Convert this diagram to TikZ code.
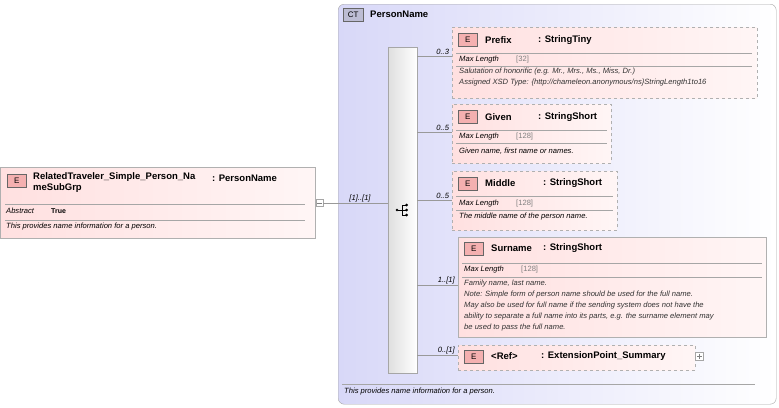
\documentclass[tikz,border=0pt]{standalone}
\usepackage{fontspec}
\setmainfont{Liberation Sans}
\usetikzlibrary{positioning}
\definecolor{elemfill}{HTML}{FFE0E0}
\definecolor{elemline}{HTML}{B0B0B0}
\definecolor{ctfill}{HTML}{D8D8F8}
\definecolor{badge}{HTML}{F4B0B0}
\tikzset{
  elem/.style={draw=elemline, left color=elemfill, right color=elemfill!30, anchor=north west, inner sep=0pt},
  opt/.style={elem, dashed},
  badge/.style={draw=gray!80!black, fill=badge, font=\fontsize{8}{8}\selectfont, minimum width=19pt, minimum height=13pt, inner sep=0pt, anchor=north west},
  title/.style={font=\fontsize{9.5}{11}\selectfont\bfseries, anchor=west, inner sep=0pt},
  prop/.style={font=\fontsize{7.6}{8}\selectfont\itshape, anchor=west, inner sep=0pt},
  val/.style={font=\fontsize{7.6}{8}\selectfont, text=gray, anchor=west, inner sep=0pt},
  desc/.style={font=\fontsize{7.6}{11}\selectfont\itshape, text=black!80, anchor=north west, inner sep=0pt, align=left},
  mult/.style={font=\fontsize{7.6}{8}\selectfont\itshape, anchor=south east, inner sep=1pt},
  sep/.style={draw=gray!70},
  conn/.style={draw=gray!80}
}
\begin{document}
\begin{tikzpicture}[x=1pt,y=-1pt]
\useasboundingbox (0,0) rectangle (779,407);

% complex type container
\node[draw=gray!70, rounded corners=6pt, left color=ctfill, right color=white, anchor=north west,
  minimum width=438pt, minimum height=400pt, inner sep=0pt] (ct) at (338,4) {};
\node[badge, fill=ctfill!70!gray, minimum width=20pt] (ctb) at (343,8) {CT};
\node[title] (ctname) at (370,14) {PersonName};
\draw[sep] (342,384) -- (755,384);
\node[prop] (ctdesc) at (344,392) {This provides name information for a person.};

% left element
\node[elem, minimum width=315pt, minimum height=71pt] (rt) at (0,167) {};
\node[badge] (rtb) at (7,174) {E};
\node[title, anchor=north west, align=left] (rtname) at (33,172) {RelatedTraveler\_Simple\_Person\_Na\\meSubGrp};
\node[title] (rttype) at (212,178) {: PersonName};
\draw[sep] (5,204) -- (305,204);
\node[prop] (rtabs) at (6,211) {Abstract};
\node[font=\fontsize{7}{8}\selectfont\bfseries, anchor=west, inner sep=0pt] (rtval) at (51,211) {True};
\draw[sep] (5,220) -- (305,220);
\node[prop] (rtdesc) at (6,227) {This provides name information for a person.};
\node[draw=gray!70, fill=white, minimum size=7pt, inner sep=0pt] (rtm) at (319.5,203) {};
\draw[gray] (317,203) -- (322,203);

% sequence
\node[draw=gray!70, left color=gray!25, right color=white, anchor=north west,
  minimum width=29pt, minimum height=326pt, inner sep=0pt] (seq) at (388,47) {};
\coordinate (seqin) at (388,203);
\draw[conn] (rtm.east) -- (seqin) node[mult, pos=0.75] {[1]..[1]};
\begin{scope}[shift={(403,210)}]
  \fill (-6,0) circle (1.3);
  \draw (-5,0) -- (-1,0) (-1,-5) -- (-1,5) (-1,-5) -- (3,-5) (-1,0) -- (3,0) (-1,5) -- (3,5);
  \fill (3.5,-5) circle (1.5) (3.5,0) circle (1.5) (3.5,5) circle (1.5);
\end{scope}

% Prefix
\node[opt, minimum width=305pt, minimum height=71pt] (prefix) at (452,27) {};
\node[badge] at (458,33) {E};
\node[title] at (485,40) {Prefix};
\node[title] at (538,40) {: StringTiny};
\draw[sep] (456,53) -- (752,53);
\node[prop] at (459,60) {Max Length};
\node[val] at (516,60) {[32]};
\draw[sep] (456,66) -- (752,66);
\node[desc] at (459,68) {Salutation of honorific (e.g. Mr., Mrs., Ms., Miss, Dr.)\\Assigned XSD Type: \{http://chameleon.anonymous/ns\}StringLength1to16};
\coordinate (prefixin) at (452,56);
\draw[conn] (seq.east |- prefixin) -- (prefixin) node[mult, pos=0.95] {0..3};

% Given
\node[opt, minimum width=159pt, minimum height=59pt] (given) at (452,104) {};
\node[badge] at (458,110) {E};
\node[title] at (485,117) {Given};
\node[title] at (538,117) {: StringShort};
\draw[sep] (456,130) -- (607,130);
\node[prop] at (459,137) {Max Length};
\node[val] at (516,137) {[128]};
\draw[sep] (456,143) -- (607,143);
\node[prop] at (459,151) {Given name, first name or names.};
\coordinate (givenin) at (452,132);
\draw[conn] (seq.east |- givenin) -- (givenin) node[mult, pos=0.95] {0..5};

% Middle
\node[opt, minimum width=165pt, minimum height=59pt] (middle) at (452,171) {};
\node[badge] at (458,177) {E};
\node[title] at (485,183) {Middle};
\node[title] at (543,183) {: StringShort};
\draw[sep] (456,196) -- (613,196);
\node[prop] at (459,204) {Max Length};
\node[val] at (516,204) {[128]};
\draw[sep] (456,210) -- (613,210);
\node[prop] at (459,217) {The middle name of the person name.};
\coordinate (middlein) at (452,200);
\draw[conn] (seq.east |- middlein) -- (middlein) node[mult, pos=0.95] {0..5};

% Surname
\node[elem, minimum width=308pt, minimum height=100pt] (surname) at (458,237) {};
\node[badge] at (464,242) {E};
\node[title] at (491,248) {Surname};
\node[title] at (543,248) {: StringShort};
\draw[sep] (462,263) -- (762,263);
\node[prop] at (464,270) {Max Length};
\node[val] at (521,270) {[128]};
\draw[sep] (462,277) -- (762,277);
\node[desc] at (464,280) {Family name, last name.\\Note: Simple form of person name should be used for the full name.\\May also be used for full name if the sending system does not have the\\ability to separate a full name into its parts, e.g. the surname element may\\be used to pass the full name.};
\coordinate (surnamein) at (458,285);
\draw[conn] (seq.east |- surnamein) -- (surnamein) node[mult, pos=0.95] {1..[1]};

% Ref
\node[opt, minimum width=237pt, minimum height=25pt] (ref) at (458,345) {};
\node[badge] at (464,350) {E};
\node[title] at (491,356) {<Ref>};
\node[title] at (541,356) {: ExtensionPoint\_Summary};
\node[draw=gray!70, fill=white, minimum size=8pt, inner sep=0pt] (refp) at (699.5,356) {};
\draw[gray] (697,356) -- (702,356) (699.5,353.5) -- (699.5,358.5);
\coordinate (refin) at (458,355);
\draw[conn] (seq.east |- refin) -- (refin) node[mult, pos=0.95] {0..[1]};
\end{tikzpicture}
\end{document}
